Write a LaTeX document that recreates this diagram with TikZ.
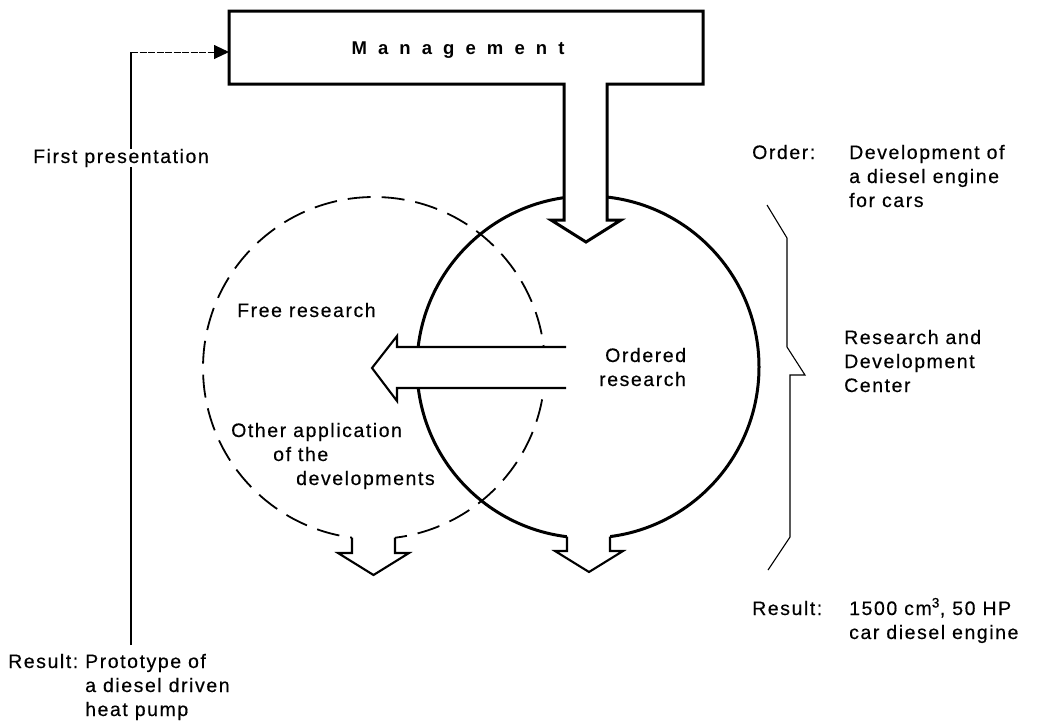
\documentclass[tikz,border=0pt]{standalone}
\usepackage{fontspec}
\setmainfont{Liberation Sans}
\newfontfamily\labfont[LetterSpace=8,FakeBold=0.4]{Liberation Sans}
\newfontfamily\mgmtfont[LetterSpace=60]{Liberation Sans}
\usetikzlibrary{arrows.meta}
\begin{document}
\begin{tikzpicture}[x=1pt,y=-1pt,
  lab/.style={font=\labfont\fontsize{19.5}{24}\selectfont, inner sep=0pt, anchor=base west},
  heavy/.style={line width=3pt, line join=miter},
  arrowline/.style={line width=2.1pt, line join=miter},
  thinline/.style={line width=1.1pt}]
\useasboundingbox (0,0) rectangle (1044,726);

% circles
\draw[line width=1.8pt, dash pattern=on 23pt off 11pt] (374,368) circle[radius=171pt];
\draw[heavy] (588,367) circle[radius=171pt];

% management box with downward arrow
\filldraw[heavy, fill=white] (229,11) -- (703,11) -- (703,84) -- (607,84) -- (607,220)
  -- (621,220) -- (586,242) -- (551,220) -- (564,220) -- (564,84) -- (229,84) -- cycle;
\node[font=\mgmtfont\bfseries\fontsize{18.5}{20}\selectfont, inner sep=0pt] (mgmt) at (458,50) {Management};

% horizontal arrow out of ordered research
\filldraw[arrowline, fill=white] (566,347) -- (397,347) -- (397,336) -- (372,368)
  -- (397,401) -- (397,388) -- (566,388);

% bottom arrows
\fill[white] (567,525) rectangle (610,551);
\draw[arrowline] (567,536.7) -- (567,551) -- (555,551) -- (589,572) -- (623,551) -- (610,551) -- (610,536.6);
\fill[white] (352,525) rectangle (395,553);
\draw[arrowline] (352,537.6) -- (352,553) -- (338,553) -- (373.5,575) -- (409,553) -- (395,553) -- (395,537.7);

% brace
\draw[thinline] (767,205) -- (787,238) -- (787,347) -- (805,375) -- (790,375) -- (790,537) -- (768,570);

% feedback line
\coordinate (ft) at (131,52);
\coordinate (fb) at (131,645);
\coordinate (mw) at (229,52);
\node[lab] (fp) at (33,163) {First presentation};
\draw[thinline] (fb) -- (fb |- fp.south);
\draw[thinline] (ft |- fp.north) -- (ft);
\draw[line width=0.9pt, dash pattern=on 7pt off 1.5pt, -{Triangle[length=15pt,width=14pt]}] (ft) -- (mw);

% labels
\node[lab] (ord) at (752,159) {Order:};
\node[lab] (ord1) at (849,159) {Development of};
\node[lab] (ord2) at (849,183) {a diesel engine};
\node[lab] (ord3) at (849,207) {for cars};

\node[lab] (rd1) at (844,344) {Research and};
\node[lab] (rd2) at (844,368) {Development};
\node[lab] (rd3) at (844,392) {Center};

\node[lab] (or1) at (605,362) {Ordered};
\node[lab] (or2) at (599,386) {research};

\node[lab] (fr) at (237,317) {Free research};
\node[lab] (oa1) at (231,437) {Other application};
\node[lab] (oa2) at (273,461) {of the};
\node[lab] (oa3) at (296,485) {developments};

\node[lab] (rr) at (752,615) {Result:};
\node[lab] (rr1) at (849,615) {1500 cm\textsuperscript{3}, 50 HP};
\node[lab] (rr2) at (849,639) {car diesel engine};

\node[lab] (lr) at (8,668) {Result:};
\node[lab] (lr1) at (85,668) {Prototype of};
\node[lab] (lr2) at (85,692) {a diesel driven};
\node[lab] (lr3) at (85,716) {heat pump};
\end{tikzpicture}
\end{document}
